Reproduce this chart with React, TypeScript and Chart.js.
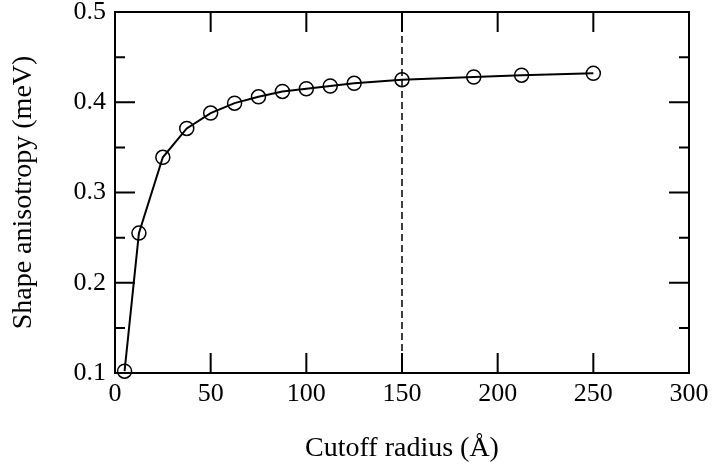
import React, { useEffect, useRef } from "react";
import { Chart, registerables } from "chart.js";

Chart.register(...registerables);

const cutoffRadius = [5, 12.5, 25, 37.5, 50, 62.5, 75, 87.5, 100, 112.5, 125, 150, 187.5, 212.5, 250];
const shapeAnisotropy = [0.102, 0.255, 0.339, 0.371, 0.388, 0.399, 0.406, 0.412, 0.415, 0.418, 0.421, 0.425, 0.428, 0.43, 0.432];

const xTickValues = [0, 50, 100, 150, 200, 250, 300];
const xTickLabels = ["0", "50", "100", "150", "200", "250", "300"];
const yTickValues = [0.1, 0.2, 0.3, 0.4, 0.5];
const yTickLabels = ["0.1", "0.2", "0.3", "0.4", "0.5"];
const yMinorTickValues = [0.15, 0.25, 0.35, 0.45];
const referenceCutoff = 150;

const xTitle = "Cutoff radius (Å)";
const yTitle = "Shape anisotropy (meV)";

const FONT = "'Liberation Serif', 'Times New Roman', serif";

const framePlugin = {
  id: "framePlugin",
  beforeDatasetsDraw(chart: any) {
    const { ctx, chartArea, scales } = chart;
    const px = scales.x.getPixelForValue(referenceCutoff);
    ctx.save();
    ctx.strokeStyle = "#000";
    ctx.lineWidth = 1.5;
    ctx.setLineDash([7, 4]);
    ctx.beginPath();
    ctx.moveTo(px, chartArea.bottom);
    ctx.lineTo(px, chartArea.top);
    ctx.stroke();
    ctx.restore();
  },
  afterDraw(chart: any) {
    const { ctx, chartArea, scales } = chart;
    const { left, right, top, bottom } = chartArea;
    const major = 20;
    const minor = 10;
    ctx.save();
    ctx.strokeStyle = "#000";
    ctx.lineWidth = 2;
    ctx.setLineDash([]);
    ctx.beginPath();
    xTickValues.forEach((v) => {
      const px = scales.x.getPixelForValue(v);
      if (px <= left + 1 || px >= right - 1) return;
      ctx.moveTo(px, bottom);
      ctx.lineTo(px, bottom - major);
      ctx.moveTo(px, top);
      ctx.lineTo(px, top + major);
    });
    yTickValues.forEach((v) => {
      const py = scales.y.getPixelForValue(v);
      if (py <= top + 1 || py >= bottom - 1) return;
      ctx.moveTo(left, py);
      ctx.lineTo(left + major, py);
      ctx.moveTo(right, py);
      ctx.lineTo(right - major, py);
    });
    yMinorTickValues.forEach((v) => {
      const py = scales.y.getPixelForValue(v);
      ctx.moveTo(left, py);
      ctx.lineTo(left + minor, py);
      ctx.moveTo(right, py);
      ctx.lineTo(right - minor, py);
    });
    ctx.stroke();
    ctx.strokeRect(left, top, right - left, bottom - top);
    ctx.restore();
  },
};

export default function App() {
  const canvasRef = useRef<HTMLCanvasElement | null>(null);

  useEffect(() => {
    document.body.style.margin = "0";
    const canvas = canvasRef.current;
    if (!canvas) return;
    const chart = new Chart(canvas, {
      type: "line",
      data: {
        datasets: [
          {
            data: cutoffRadius.map((x, i) => ({ x, y: shapeAnisotropy[i] })),
            borderColor: "#000",
            borderWidth: 2,
            backgroundColor: "transparent",
            pointRadius: 7,
            pointHoverRadius: 7,
            pointBorderWidth: 1.5,
            pointBorderColor: "#000",
            pointBackgroundColor: "transparent",
            pointStyle: "circle",
            tension: 0,
            fill: false,
            clip: false as any,
          },
        ],
      },
      options: {
        animation: false,
        responsive: false,
        maintainAspectRatio: false,
        layout: { padding: { top: 12, right: 23, left: 0, bottom: 0 } },
        plugins: { legend: { display: false }, tooltip: { enabled: false } },
        scales: {
          x: {
            type: "linear",
            min: 0,
            max: 300,
            grid: { display: false, drawTicks: false },
            border: { display: false },
            afterBuildTicks: (scale: any) => {
              scale.ticks = xTickValues.map((value) => ({ value }));
            },
            afterFit: (scale: any) => {
              scale.height = 93;
              scale.paddingLeft = 0;
              scale.paddingRight = 0;
            },
            ticks: {
              color: "#000",
              padding: 6,
              maxRotation: 0,
              autoSkip: false,
              font: { family: FONT, size: 26, lineHeight: 1.2 },
              callback: (value: any) => {
                const i = xTickValues.indexOf(Number(value));
                return i >= 0 ? xTickLabels[i] : "";
              },
            },
            title: {
              display: true,
              text: xTitle,
              color: "#000",
              font: { family: FONT, size: 28, lineHeight: 1.2 },
              padding: { top: 0, bottom: 1 },
            },
          },
          y: {
            type: "linear",
            min: 0.1,
            max: 0.5,
            grid: { display: false, drawTicks: false },
            border: { display: false },
            afterBuildTicks: (scale: any) => {
              scale.ticks = yTickValues.map((value) => ({ value }));
            },
            afterFit: (scale: any) => {
              scale.width = 115;
              scale.paddingTop = 0;
              scale.paddingBottom = 0;
            },
            ticks: {
              color: "#000",
              padding: 9,
              autoSkip: false,
              font: { family: FONT, size: 26, lineHeight: 1.2 },
              callback: (value: any) => {
                const i = yTickValues.findIndex((v) => Math.abs(v - Number(value)) < 1e-9);
                return i >= 0 ? yTickLabels[i] : "";
              },
            },
            title: {
              display: true,
              text: yTitle,
              color: "#000",
              font: { family: FONT, size: 28, lineHeight: 1.2 },
              padding: { top: 7, bottom: 0 },
            },
          },
        },
      },
      plugins: [framePlugin],
    });
    return () => chart.destroy();
  }, []);

  return (
    <div style={{ position: "absolute", left: 0, top: 0, width: 712, height: 466, background: "#fff" }}>
      <canvas ref={canvasRef} width={712} height={466} style={{ width: 712, height: 466 }} />
    </div>
  );
}
